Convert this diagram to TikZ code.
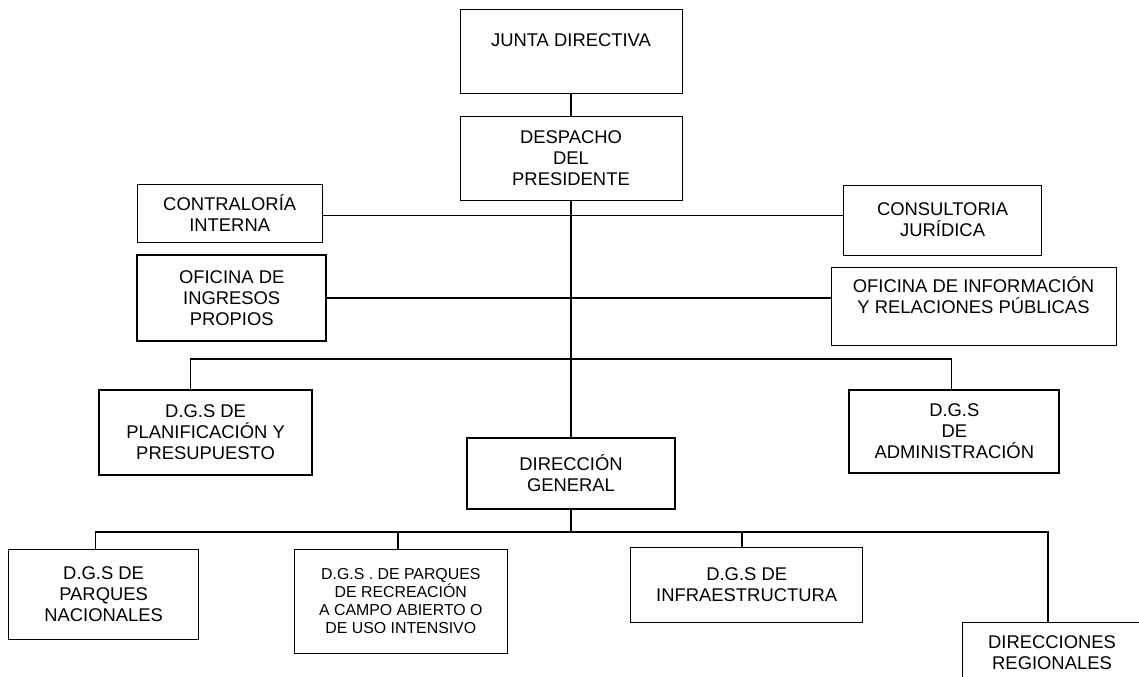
\documentclass[tikz,border=0pt]{standalone}
\usepackage{fontspec}
\setmainfont{Liberation Sans}

\begin{document}
\begin{tikzpicture}[x=0.75pt,y=-0.75pt,
    unit/.style={draw,inner sep=0pt,outer sep=0pt,align=center,line width=0.6pt,
      font=\fontsize{13.8}{15.75}\selectfont},
    unitb/.style={unit,line width=1.5pt},
    link/.style={line width=1.2pt}]
  \useasboundingbox (0,0) rectangle (1139,677);
  \clip (0,0) rectangle (1139,677);
  % top of the chart
  \node[unit,minimum width=166.5pt,minimum height=63pt] (junta) at (571,51) {JUNTA DIRECTIVA\\ \mbox{}};
  \node[unit,minimum width=166.5pt,minimum height=63pt] (despacho) at (571,158) {DESPACHO\\DEL\\PRESIDENTE};
  \node[unit,minimum width=138.5pt,minimum height=43.5pt] (contraloria) at (229.7,213) {CONTRALORÍA\\INTERNA};
  \node[unit,minimum width=148.8pt,minimum height=52.5pt] (consultoria) at (942.6,220) {CONSULTORIA\\JURÍDICA};
  \node[unitb,minimum width=141.5pt,minimum height=64.5pt] (ingresos) at (231.7,298) {OFICINA DE\\INGRESOS\\PROPIOS};
  \node[unit,minimum width=213.8pt,minimum height=58.5pt] (informacion) at (973.5,306) {OFICINA DE INFORMACIÓN\\Y RELACIONES PÚBLICAS\\ \mbox{}};
  % staff level
  \node[unitb,minimum width=160pt,minimum height=63.8pt] (planificacion) at (205.6,432.5) {D.G.S DE\\PLANIFICACIÓN Y\\PRESUPUESTO};
  \node[unitb,minimum width=157.5pt,minimum height=62.3pt] (administracion) at (954.3,431.5) {D.G.S\\DE\\ADMINISTRACIÓN};
  \node[unitb,minimum width=155.4pt,minimum height=53.3pt] (direccion) at (571,473.5) {DIRECCIÓN\\GENERAL};
  % bottom row
  \node[unit,minimum width=142.4pt,minimum height=67.5pt] (nacionales) at (103.6,594) {D.G.S DE\\PARQUES\\NACIONALES};
  \node[unit,minimum width=159.5pt,minimum height=78pt,font=\fontsize{11.9}{13.5}\selectfont] (recreacion) at (400.8,601)
    {D.G.S . DE PARQUES\\DE RECREACIÓN\\A CAMPO ABIERTO O\\DE USO INTENSIVO};
  \node[unit,minimum width=173.9pt,minimum height=56.3pt] (infraestructura) at (746.7,584.5) {D.G.S DE\\INFRAESTRUCTURA};
  \node[unit,minimum width=135pt,minimum height=45.8pt] (regionales) at (1052,652.5) {DIRECCIONES\\REGIONALES};

  \coordinate (spine) at (571,0);
  \coordinate (bus1) at (571,359);
  \coordinate (bus2) at (571,532);

  \draw[link] (junta.south -| spine) -- (despacho.north -| spine);
  \draw[link] (despacho.south -| spine) -- (direccion.north -| spine);
  \draw[link] ([yshift=-2pt]contraloria.east) -- ([yshift=-2pt]contraloria.east -| consultoria.west);
  \draw[link] (ingresos.east) -- (ingresos.east -| informacion.west);
  \draw[link] ([xshift=-11.3pt]planificacion.north) |- (bus1) -| ([xshift=-2pt]administracion.north);
  \draw[link] (direccion.south -| spine) -- (bus2);
  \draw[link] ([xshift=-6pt]nacionales.north) |- (bus2) -| ([xshift=64.5pt]regionales.north west);
  \draw[link] ([xshift=-2.3pt]recreacion.north) |- (bus2);
  \draw[link] ([xshift=-3.5pt]infraestructura.north) |- (bus2);
\end{tikzpicture}
\end{document}
